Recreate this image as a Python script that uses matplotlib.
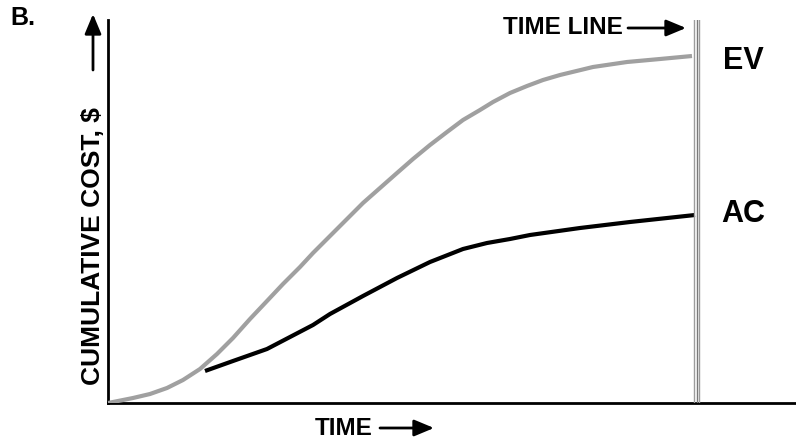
import matplotlib
matplotlib.use("Agg")
import matplotlib.pyplot as plt
from matplotlib.patches import FancyArrowPatch

plt.rcParams['font.family'] = ['Liberation Sans', 'DejaVu Sans']

# Earned value (EV) curve: time vs cumulative cost
ev_time = [0, 25, 42, 59, 75, 92, 109, 125, 142, 159, 175, 192, 205, 222, 239, 255,
           272, 289, 305, 322, 339, 355, 372, 385, 402, 419, 435, 452, 485, 519, 552, 584]
ev_cost = [0, 5, 9, 15, 23, 34, 49, 65, 84, 102, 119, 136, 150, 167, 184, 200,
           215, 230, 244, 258, 271, 283, 293, 301, 310, 317, 323, 328, 336, 341, 344, 347]

# Actual cost (AC) curve
ac_time = [97, 125, 159, 182, 205, 222, 255, 289, 322, 355, 379, 402, 422, 472, 522, 587]
ac_cost = [32, 42, 54, 66, 78, 89, 107, 125, 141, 154, 160, 164, 168, 175, 181, 188]

# Status date ("time line") position
time_line = 588.5

W, H = 796, 448
fig = plt.figure(figsize=(W / 100, H / 100), dpi=100)
ax = fig.add_axes([108 / W, (H - 403) / H, (W - 108) / W, (403 - 20) / H])
ax.set_xlim(0, W - 108)
ax.set_ylim(0, 403 - 20)

for s in ['top', 'right']:
    ax.spines[s].set_visible(False)
for s in ['left', 'bottom']:
    ax.spines[s].set_linewidth(2.0)
    ax.spines[s].set_color('black')
ax.set_xticks([])
ax.set_yticks([])

ax.plot(ev_time, ev_cost, color='#a0a0a0', lw=3.0, solid_capstyle='butt',
        solid_joinstyle='round', zorder=3)
ax.plot(ac_time, ac_cost, color='black', lw=3.0, solid_capstyle='butt',
        solid_joinstyle='round', zorder=3)

for dx, col in [(-2.6, '#9c9c9c'), (0, '#7a7a7a'), (2.6, '#9c9c9c')]:
    ax.axvline(time_line + dx, color=col, lw=1.0, zorder=4)


def fx(px):
    return px / W


def fy(py):
    return 1 - py / H


bold = dict(fontweight='bold', color='black')

fig.text(fx(10), fy(18), 'B.', fontsize=18, va='center', ha='left', **bold)
fig.text(fx(93), fy(246), 'CUMULATIVE COST, $', fontsize=19, rotation=90,
         va='center', ha='center', **bold)
fig.text(fx(344), fy(428), 'TIME', fontsize=17.5, va='center', ha='center', **bold)
fig.text(fx(563), fy(28), 'TIME LINE', fontsize=17.5, va='center', ha='center', **bold)
fig.text(fx(743), fy(61), 'EV', fontsize=22, va='center', ha='center', **bold)
fig.text(fx(743), fy(214), 'AC', fontsize=22, va='center', ha='center', **bold)

arrow = dict(arrowstyle='-|>,head_length=0.6,head_width=0.25', color='black', lw=2.0,
             shrinkA=0, shrinkB=0, mutation_scale=20, transform=fig.transFigure)
for start, end in [((93, 70), (93, 14)), ((380, 428), (434, 428)), ((628, 28), (686, 28))]:
    fig.add_artist(FancyArrowPatch((fx(start[0]), fy(start[1])),
                                   (fx(end[0]), fy(end[1])), **arrow))

fig.savefig('out.png', dpi=100)
